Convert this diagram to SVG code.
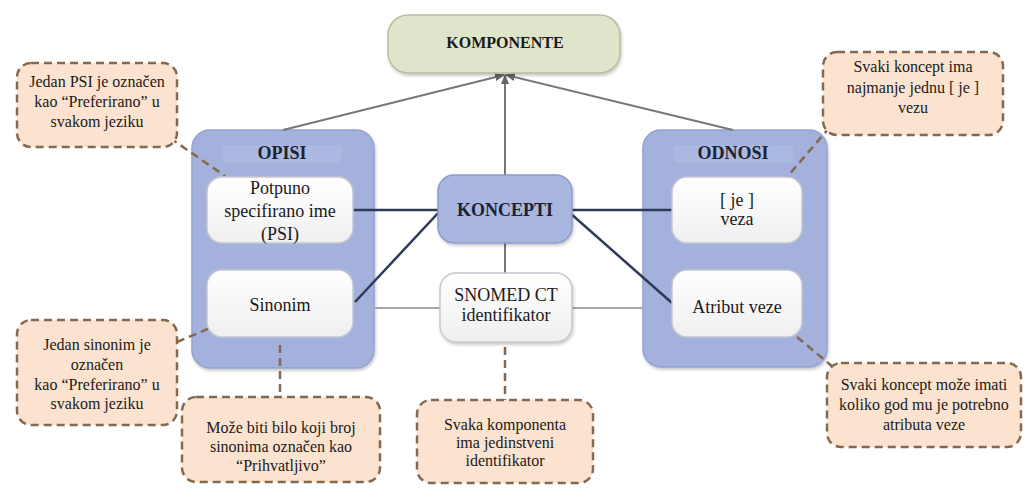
<svg xmlns="http://www.w3.org/2000/svg" width="1026" height="493" viewBox="0 0 1026 493" font-family="'Liberation Serif','DejaVu Serif',serif">
<style>
text{font-family:"Liberation Serif","DejaVu Serif",serif;fill:#1a1a1a;text-anchor:middle}
.lbl{font-size:18px}
.hdr{font-size:18px;font-weight:bold;fill:#1c2233}
.note{font-size:16px}
.cont{fill:#a3b1dc;stroke:#93a2d1;stroke-width:1.5}
.inner{fill:url(#gWhite);stroke:#c4c7cf;stroke-width:1.5}
.callout{fill:#fbe3cf;stroke:#86684f;stroke-width:2.5;stroke-dasharray:8 5}
.dash{stroke:#86684f;stroke-width:2.5;stroke-dasharray:8 5;fill:none}
.dark{stroke:#2f3a58;stroke-width:2.5;fill:none}
.gray{stroke:#777;stroke-width:2;fill:none}
.light{stroke:#a8a8a8;stroke-width:2;fill:none}
</style>
<defs>
<linearGradient id="gWhite" x1="0" y1="0" x2="0" y2="1">
<stop offset="0" stop-color="#ffffff"/><stop offset="1" stop-color="#efefef"/>
</linearGradient>
<filter id="sh" x="-10%" y="-10%" width="125%" height="130%">
<feDropShadow dx="1" dy="2" stdDeviation="1.8" flood-color="#000" flood-opacity="0.22"/>
</filter>
<marker id="arr" markerWidth="10" markerHeight="10" refX="9" refY="5" orient="auto" markerUnits="userSpaceOnUse">
<path d="M0,1 L10,5 L0,9 Z" fill="#666"/>
</marker>
</defs>
<rect width="1026" height="493" fill="#ffffff"/>

<g id="opisi">
<rect class="cont" x="192" y="130" width="182" height="238" rx="18" filter="url(#sh)"/>
<rect x="222" y="145" width="120" height="18" rx="4" fill="#abb8e0"/>
<text class="hdr" x="282" y="159">OPISI</text>
</g>

<g id="odnosi">
<rect class="cont" x="643" y="130" width="184" height="237" rx="18" filter="url(#sh)"/>
<rect x="673" y="145" width="120" height="18" rx="4" fill="#abb8e0"/>
<text class="hdr" x="733" y="159">ODNOSI</text>
</g>

<g id="connectors">
<line class="gray" x1="283" y1="130" x2="504" y2="75" marker-end="url(#arr)"/>
<line class="gray" x1="505" y1="175" x2="505" y2="75" marker-end="url(#arr)"/>
<line class="gray" x1="733" y1="130" x2="506" y2="75" marker-end="url(#arr)"/>
<line class="light" x1="374" y1="308" x2="440" y2="308"/>
<line class="light" x1="572" y1="308" x2="643" y2="308"/>
<line class="gray" x1="505" y1="243" x2="505" y2="273"/>
<line class="dark" x1="353" y1="210" x2="438" y2="210"/>
<line class="dark" x1="355" y1="302" x2="440" y2="211"/>
<line class="dark" x1="572" y1="210" x2="672" y2="210"/>
<line class="dark" x1="570" y1="213" x2="672" y2="303"/>
<line class="dash" x1="170" y1="138" x2="225" y2="176"/>
<line class="dash" x1="830" y1="127" x2="787" y2="177"/>
<line class="dash" x1="177" y1="342" x2="210" y2="328"/>
<line class="dash" x1="280" y1="345" x2="280" y2="397"/>
<line class="dash" x1="505" y1="347" x2="505" y2="400"/>
<line class="dash" x1="797" y1="337" x2="833" y2="367"/>
</g>

<g id="komponente">
<rect x="388" y="15" width="232" height="58" rx="20" fill="#dfe5cb" stroke="#b7be9e" stroke-width="1.5" filter="url(#sh)"/>
<text x="505" y="48" style="font-size:16px;font-weight:bold">KOMPONENTE</text>
</g>

<g id="psi">
<rect class="inner" x="207" y="177" width="146" height="66" rx="15"/>
<text class="lbl" x="280" y="194">Potpuno</text>
<text class="lbl" x="280" y="217">specifirano ime</text>
<text class="lbl" x="280" y="240">(PSI)</text>
</g>

<g id="sinonim">
<rect class="inner" x="207" y="270" width="146" height="67" rx="15"/>
<text class="lbl" x="280" y="311">Sinonim</text>
</g>

<g id="koncepti">
<rect x="438" y="175" width="134" height="68" rx="16" fill="#a9b6e0" stroke="#8e9bc9" stroke-width="1.5" filter="url(#sh)"/>
<text class="hdr" x="505" y="216">KONCEPTI</text>
</g>

<g id="snomed">
<rect class="inner" x="440" y="273" width="132" height="69" rx="16" filter="url(#sh)"/>
<text class="lbl" x="506" y="301">SNOMED CT</text>
<text class="lbl" x="506" y="321">identifikator</text>
</g>

<g id="je-veza">
<rect class="inner" x="672" y="177" width="130" height="66" rx="15"/>
<text class="lbl" x="737" y="206">[ je ]</text>
<text class="lbl" x="737" y="225">veza</text>
</g>

<g id="atribut-veze">
<rect class="inner" x="672" y="270" width="130" height="67" rx="15"/>
<text class="lbl" x="737" y="313">Atribut veze</text>
</g>

<g id="note-psi">
<rect class="callout" x="17" y="63" width="160" height="84" rx="14"/>
<text class="note" x="97" y="87">Jedan PSI je označen</text>
<text class="note" x="97" y="107">kao “Preferirano” u</text>
<text class="note" x="97" y="127">svakom jeziku</text>
</g>

<g id="note-je-veza">
<rect class="callout" x="823" y="52" width="180" height="83" rx="14"/>
<text class="note" x="913" y="72">Svaki koncept ima</text>
<text class="note" x="913" y="93">najmanje jednu [ je ]</text>
<text class="note" x="913" y="113">vezu</text>
</g>

<g id="note-sinonim">
<rect class="callout" x="17" y="320" width="160" height="105" rx="14"/>
<text class="note" x="97" y="350">Jedan sinonim je</text>
<text class="note" x="97" y="370">označen</text>
<text class="note" x="97" y="390">kao “Preferirano” u</text>
<text class="note" x="97" y="409">svakom jeziku</text>
</g>

<g id="note-prihvatljivo">
<rect class="callout" x="182" y="397" width="198" height="85" rx="14"/>
<text class="note" x="281" y="433">Može biti bilo koji broj</text>
<text class="note" x="281" y="452">sinonima označen kao</text>
<text class="note" x="281" y="471">“Prihvatljivo”</text>
</g>

<g id="note-identifikator">
<rect class="callout" x="417" y="400" width="176" height="83" rx="14"/>
<text class="note" x="505" y="430">Svaka komponenta</text>
<text class="note" x="505" y="448">ima jedinstveni</text>
<text class="note" x="505" y="466">identifikator</text>
</g>

<g id="note-atribut">
<rect class="callout" x="827" y="363" width="194" height="84" rx="14"/>
<text class="note" x="924" y="390">Svaki koncept može imati</text>
<text class="note" x="924" y="410">koliko god mu je potrebno</text>
<text class="note" x="924" y="430">atributa veze</text>
</g>
</svg>
